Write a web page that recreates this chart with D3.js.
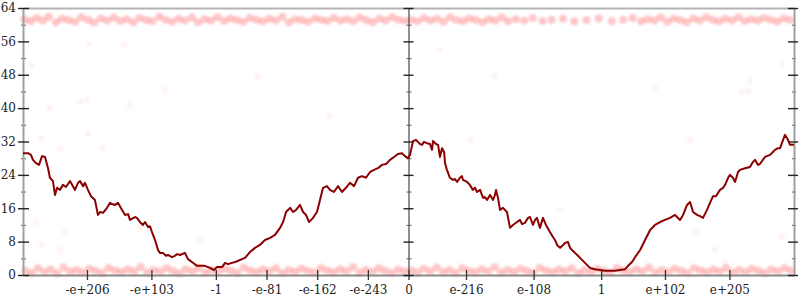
<!DOCTYPE html>
<html>
<head>
<meta charset="utf-8">
<script src="https://cdn.jsdelivr.net/npm/d3@7"></script>
<style>
  body { margin: 0; background: #fff; }
  svg { display: block; }
  text { font-family: "DejaVu Serif", serif; font-size: 12px; fill: #222; }
</style>
</head>
<body>
<div id="wrapper"></div>
<script>
// x positions are in "ordered float" units: sign * (1023 + log2|v|), so 1 -> 1023, 0 -> 0
const xTickValues = [-1e206, -1e103, -1, -1e-81, -1e-162, -1e-243, 0, 1e-216, 1e-108, 1, 1e102, 1e205];
const xTickLabels = ["-e+206", "-e+103", "-1", "-e-81", "-e-162", "-e-243", "0", "e-216", "e-108", "1", "e+102", "e+205"];
const yMajorTicks = [0, 8, 16, 24, 32, 40, 48, 56, 64];
const yMinorTicks = [4, 12, 20, 28, 36, 44, 52, 60];

// the dark red running line [x, y]
const lineLeft = [
  [-2047,29.2],[-2020,29.2],[-2005,28.8],[-1994,27.6],[-1978,26.8],[-1962,26.4],[-1946,28.5],[-1930,28.3],
  [-1914,25.6],[-1904,23.3],[-1888,22.5],[-1877,19.2],[-1866,20.9],[-1851,20.4],[-1835,21.6],[-1819,21.1],
  [-1797,22.5],[-1782,21.3],[-1771,20.4],[-1755,22.1],[-1744,22.5],[-1728,21.3],[-1718,22.1],[-1702,20.4],
  [-1686,18.9],[-1665,18.0],[-1649,14.4],[-1638,15.1],[-1622,14.9],[-1601,16.1],[-1585,17.3],[-1574,17.0],
  [-1558,16.8],[-1543,17.3],[-1521,15.6],[-1505,14.4],[-1489,14.6],[-1479,13.2],[-1452,13.9],[-1442,13.7],
  [-1426,12.7],[-1410,12.0],[-1399,12.7],[-1383,11.5],[-1373,11.7],[-1362,10.3],[-1346,8.4],[-1330,6.0],
  [-1320,5.3],[-1304,5.3],[-1288,4.6],[-1277,4.8],[-1256,4.3],[-1240,4.6],[-1229,5.0],[-1213,4.8],
  [-1187,5.3],[-1171,3.8],[-1150,3.1],[-1123,2.2],[-1107,2.2],[-1081,2.2],[-1054,1.7],[-1033,1.2],
  [-1017,1.9],[-990,1.9],[-974,2.9],[-958,2.6],[-937,2.9],[-921,3.1],[-895,3.6],[-868,4.1],
  [-842,5.5],[-815,6.5],[-789,7.2],[-762,8.4],[-735,8.9],[-709,9.6],[-682,11.3],[-666,12.7],
  [-650,15.1],[-629,16.1],[-613,15.1],[-597,15.6],[-576,16.8],[-560,15.1],[-544,14.4],[-528,12.7],
  [-507,13.7],[-486,15.1],[-470,18.0],[-454,20.9],[-433,21.3],[-417,20.4],[-396,19.9],[-374,21.3],
  [-353,19.9],[-332,20.9],[-311,22.1],[-289,21.3],[-268,23.3],[-247,23.7],[-226,23.3],[-204,24.7],
  [-183,25.2],[-162,25.6],[-141,26.4],[-119,26.6],[-98,27.6],[-77,28.3],[-56,29.0],[-35,29.2],
  [-19,28.5],[-3,28.0]
];
const lineRight = [
  [8,28.8],[24,32.1],[40,32.4],[50,31.9],[61,31.4],[72,31.2],[82,31.9],[98,31.6],
  [114,31.4],[125,30.0],[130,32.1],[146,31.4],[157,31.2],[167,28.3],[178,30.4],[189,29.5],
  [194,26.8],[204,25.2],[220,23.3],[236,22.8],[247,23.0],[258,22.3],[273,23.3],[284,23.7],
  [289,22.8],[311,22.3],[326,21.6],[342,20.4],[353,20.9],[364,19.9],[380,20.4],[396,18.5],
  [406,18.7],[417,18.0],[433,19.2],[449,18.0],[459,19.2],[465,20.4],[475,18.5],[486,15.6],
  [502,16.1],[523,15.1],[539,11.3],[555,12.0],[576,12.7],[592,13.2],[603,12.2],[619,12.5],
  [635,13.7],[645,13.9],[661,12.0],[672,13.2],[682,13.7],[698,11.3],[714,13.7],[730,12.0],
  [751,10.3],[767,9.1],[778,8.4],[789,7.2],[805,6.5],[821,7.2],[831,7.7],[847,7.9],
  [858,6.5],[868,6.0],[884,5.3],[900,4.6],[911,4.1],[937,2.9],[964,1.7],[990,1.4],
  [1017,1.2],[1044,1.0],[1070,1.0],[1097,1.0],[1123,1.2],[1150,1.4],[1166,2.2],[1187,3.1],
  [1208,4.6],[1230,6.0],[1256,8.4],[1283,10.8],[1309,12.0],[1336,12.7],[1362,13.2],[1389,13.7],
  [1415,14.4],[1442,13.2],[1458,14.4],[1479,16.8],[1495,17.5],[1511,15.1],[1532,14.4],[1548,14.1],
  [1564,13.7],[1585,15.6],[1601,17.3],[1617,18.9],[1633,18.9],[1654,20.4],[1670,20.9],[1681,21.6],
  [1697,23.3],[1707,24.0],[1723,23.3],[1734,22.3],[1750,24.7],[1760,25.2],[1787,25.6],[1813,25.9],
  [1829,27.1],[1840,27.6],[1856,26.4],[1866,26.6],[1893,28.3],[1920,28.8],[1935,29.5],[1946,30.0],
  [1962,30.4],[1973,30.4],[1989,32.4],[1999,33.6],[2015,32.4],[2026,31.2],[2047,31.2]
];

// faint scatter: band near the top
const topBand = [
  [-2040,61.3],[-2008,60.8],[-1975,61.6],[-1941,61.0],[-1910,61.9],[-1872,60.6],[-1840,61.4],[-1806,61.1],
  [-1771,60.7],[-1738,61.8],[-1702,61.2],[-1669,60.5],[-1633,61.5],[-1600,61.0],[-1565,61.7],[-1531,60.9],
  [-1497,61.3],[-1462,60.6],[-1428,61.6],[-1393,61.1],[-1360,60.8],[-1324,61.9],[-1290,61.2],[-1255,60.7],
  [-1221,61.4],[-1187,61.0],[-1150,61.7],[-1118,60.6],[-1083,61.3],[-1049,61.0],[-1014,61.8],[-980,60.9],
  [-946,61.5],[-911,61.1],[-877,60.7],[-842,61.6],[-808,61.2],[-774,60.8],[-739,61.4],[-705,61.0],
  [-670,61.9],[-636,60.6],[-602,61.3],[-567,61.1],[-533,60.7],[-498,61.5],[-464,61.2],[-430,60.9],
  [-396,61.6],[-361,61.0],[-327,61.3],[-292,60.8],[-258,61.7],[-224,61.1],[-190,60.6],[-155,61.4],
  [-121,61.0],[-86,61.8],[-52,61.2],[-18,60.9],
  [14,61.2],[48,60.8],[82,61.6],[117,61.0],[151,61.4],[186,60.7],[220,61.8],[254,61.1],
  [289,60.9],[323,61.5],[357,61.2],[392,60.6],[426,61.3],[460,61.0],[495,61.7],[529,60.8],
  [570,61.3],[615,61.0],[660,61.6],[712,60.9],[760,61.2],[820,61.4],[880,60.8],[945,61.1],
  [1010,61.5],[1080,60.9],[1140,61.2],[1190,61.6],[1235,60.8],[1270,61.3],[1305,61.0],[1340,61.7],
  [1374,60.7],[1408,61.4],[1443,61.1],[1477,60.6],[1512,61.5],[1546,61.0],[1580,61.8],[1615,61.2],
  [1649,60.8],[1683,61.4],[1718,61.0],[1752,61.7],[1786,60.9],[1821,61.3],[1855,61.0],[1889,61.6],
  [1924,61.2],[1958,60.7],[1992,61.5],[2026,61.1]
];
// faint scatter: band near zero
const bottomBand = [
  [-2035,1.0],[-2001,0.5],[-1968,1.6],[-1934,0.8],[-1900,1.3],[-1866,0.4],[-1832,1.8],[-1797,0.9],
  [-1763,1.2],[-1729,0.6],[-1695,1.5],[-1661,1.0],[-1627,0.5],[-1593,1.7],[-1558,1.1],[-1524,0.7],
  [-1490,1.4],[-1456,0.9],[-1422,1.9],[-1388,0.6],[-1353,1.2],[-1319,0.8],[-1285,1.6],[-1251,1.0],
  [-1217,0.4],[-1183,1.4],[-1148,0.9],[-1114,1.7],[-1080,0.6],[-1046,1.2],[-1012,0.8],[-978,1.5],
  [-944,1.0],[-909,0.5],[-875,1.8],[-841,1.1],[-807,0.7],[-773,1.3],[-739,0.9],[-704,1.6],
  [-670,0.5],[-636,1.2],[-602,0.8],[-568,1.5],[-534,1.0],[-499,0.6],[-465,1.7],[-431,1.1],
  [-397,0.7],[-363,1.4],[-329,0.9],[-294,1.9],[-260,0.6],[-226,1.2],[-192,0.8],[-158,1.6],
  [-124,1.0],[-89,0.5],[-55,1.3],[-21,0.9],
  [13,1.1],[47,0.6],[81,1.5],[115,0.9],[150,1.8],[184,0.7],[218,1.2],[252,0.5],
  [286,1.6],[320,1.0],[355,0.7],[389,1.4],[423,0.9],[457,1.9],[491,0.6],[525,1.2],
  [560,0.8],[594,1.5],[628,1.0],[662,0.5],[696,1.7],[730,1.1],[765,0.7],[799,1.3],
  [833,0.9],[867,1.6],[901,0.5],[935,1.2],[970,0.8],[1004,1.5],[1038,1.0],[1072,0.6],
  [1106,1.7],[1140,1.1],[1175,0.7],[1209,1.4],[1243,0.9],[1277,1.8],[1311,0.6],[1345,1.2],
  [1380,0.8],[1414,1.5],[1448,1.0],[1482,0.5],[1516,1.6],[1550,1.1],[1585,0.7],[1619,1.3],
  [1653,0.9],[1687,1.7],[1721,0.6],[1755,1.2],[1790,0.8],[1824,1.5],[1858,1.0],[1892,0.5],
  [1926,1.4],[1960,0.9],[1995,1.7],[2029,1.1]
];
// a few stray points in between
const strayPoints = [
  [-2004,50.3],[-1293,44.3],[-1707,41.9],[-1908,40.0],[-1744,41.5],[-1479,40.7],[-1951,32.8],[-1851,30.2],
  [-1627,30.4],[-1702,34.0],[-1877,23.5],[-1946,7.2],[-1978,12.7],[-1851,6.0],[-1824,10.3],[-1426,11.3],
  [-1107,8.4],[-1700,55.4],[-1510,55.0],[-800,47.5],[-420,38.0],
  [167,53.9],[459,47.9],[1309,44.8],[1495,32.4],[1983,50.8],[1813,46.5],[1808,44.1],[1771,43.9],
  [1983,9.1],[1627,6.2],[1527,10.1],[1681,3.1],[327,32.4],[805,15.6]
];

// ordered-float position of a number
const floatPos = (v) => (v === 0 ? 0 : Math.sign(v) * (1023 + Math.log2(Math.abs(v))));

const dimensions = {
  width: 800,
  height: 300,
  margin: { top: 8, right: 6, bottom: 25, left: 23 },
};
dimensions.boundedWidth = dimensions.width - dimensions.margin.left - dimensions.margin.right;
dimensions.boundedHeight = dimensions.height - dimensions.margin.top - dimensions.margin.bottom;

const svg = d3.select("#wrapper")
  .append("svg")
  .attr("width", dimensions.width)
  .attr("height", dimensions.height);

svg.append("defs").append("filter")
  .attr("id", "soft")
  .attr("x", "-5%").attr("y", "-5%").attr("width", "110%").attr("height", "110%")
  .append("feGaussianBlur")
  .attr("stdDeviation", 1.2);

const bounds = svg.append("g")
  .attr("transform", `translate(${dimensions.margin.left},${dimensions.margin.top})`);

const xScale = d3.scaleLinear()
  .domain([-2047, 2047])
  .range([0, dimensions.boundedWidth]);

const yScale = d3.scaleLinear()
  .domain([0, 64])
  .range([dimensions.boundedHeight, 0]);

// scatter first, line on top
const dots = bounds.append("g").attr("filter", "url(#soft)");
dots.selectAll(".band")
  .data(topBand.concat(bottomBand))
  .join("circle")
  .attr("class", "band")
  .attr("cx", (d) => xScale(d[0]))
  .attr("cy", (d) => yScale(d[1]))
  .attr("r", 4)
  .attr("fill", "#ff0000")
  .attr("fill-opacity", 0.22);
dots.selectAll(".stray")
  .data(strayPoints)
  .join("circle")
  .attr("class", "stray")
  .attr("cx", (d) => xScale(d[0]))
  .attr("cy", (d) => yScale(d[1]))
  .attr("r", 3.2)
  .attr("fill", "#ff0000")
  .attr("fill-opacity", 0.05);

// top frame line
bounds.append("g")
  .call(d3.axisTop(xScale).tickValues([]).tickSizeOuter(0))
  .call((g) => g.select(".domain").attr("stroke", "#b3b3b3").attr("stroke-width", 2));

// bottom axis
const xAxis = bounds.append("g")
  .attr("transform", `translate(0,${dimensions.boundedHeight})`)
  .call(d3.axisBottom(xScale)
    .tickValues(xTickValues.map(floatPos))
    .tickFormat((d, i) => xTickLabels[i])
    .tickSizeInner(5)
    .tickSizeOuter(0)
    .tickPadding(5.5));
xAxis.select(".domain").attr("stroke", "#888").attr("stroke-width", 2);
xAxis.selectAll(".tick line").attr("y1", -5).attr("stroke", "#333").attr("stroke-width", 1.3);
xAxis.selectAll("text").attr("fill", "#222").attr("font-family", null).attr("font-size", null);

// a vertical axis with crossing major ticks and short minor ticks
function drawYAxis(xPos, withLabels, majorSpan, minorSpan, color, width) {
  const g = bounds.append("g").attr("transform", `translate(${xPos},0)`);
  g.append("g")
    .attr("class", "minor")
    .call(d3.axisLeft(yScale).tickValues(yMinorTicks).tickFormat("").tickSize(0).tickSizeOuter(0))
    .call((s) => s.select(".domain").remove())
    .call((s) => s.selectAll(".tick line")
      .attr("x1", minorSpan[0]).attr("x2", minorSpan[1])
      .attr("stroke", "#777").attr("stroke-width", 1.2));
  const major = g.append("g")
    .call(d3.axisLeft(yScale)
      .tickValues(yMajorTicks)
      .tickFormat(withLabels ? d3.format("d") : "")
      .tickSize(0)
      .tickSizeOuter(0)
      .tickPadding(7));
  major.select(".domain").attr("stroke", color).attr("stroke-width", width);
  major.selectAll(".tick line")
    .attr("x1", majorSpan[0]).attr("x2", majorSpan[1])
    .attr("stroke", "#222").attr("stroke-width", 1.4);
  major.selectAll("text").attr("fill", "#222").attr("font-family", null).attr("font-size", null);
}

drawYAxis(xScale(-2047), true, [-5, 6], [-2, 3], "#a0a0a0", 2);
drawYAxis(xScale(0), false, [-5, 5], [-2, 3], "#555", 1.3);
drawYAxis(xScale(2047), false, [-6, 4], [-2, 2], "#a0a0a0", 2);

// the running line
const lineGenerator = d3.line()
  .x((d) => xScale(d[0]))
  .y((d) => yScale(d[1]));

bounds.append("path")
  .attr("d", lineGenerator(lineLeft.concat(lineRight)))
  .attr("fill", "none")
  .attr("stroke", "#8b0000")
  .attr("stroke-width", 2)
  .attr("stroke-linejoin", "round");
</script>
</body>
</html>
